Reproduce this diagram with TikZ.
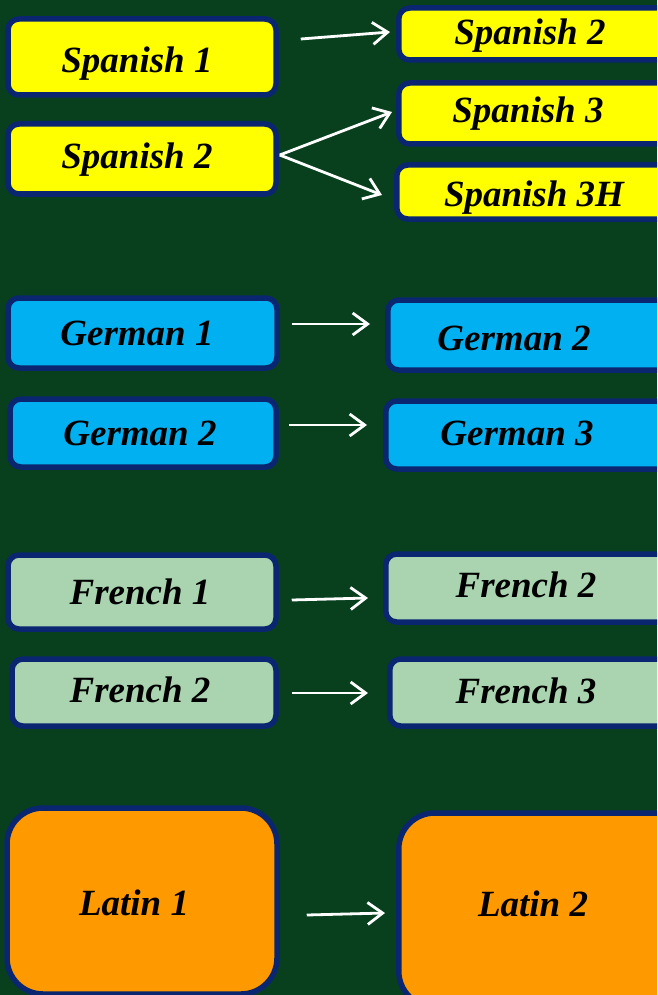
\documentclass[tikz,border=0pt]{standalone}
\usepackage{fontspec}
\setmainfont{Liberation Serif}
\usetikzlibrary{positioning, arrows.meta}

\definecolor{boardgreen}{HTML}{08401E}
\definecolor{frameblue}{HTML}{0A2670}
\definecolor{spanishyellow}{HTML}{FFFF00}
\definecolor{germanblue}{HTML}{00B0F0}
\definecolor{frenchgreen}{HTML}{A9D4AF}
\definecolor{latinorange}{HTML}{FF9900}

\begin{document}
\begin{tikzpicture}[
            x=1pt, y=-1pt,
            course/.style={draw=frameblue, line width=5.5pt, rounded corners=11pt, inner sep=0pt},
            leftcourse/.style={course, minimum width=268pt},
            rightcourse/.style={course, minimum width=320pt, anchor=west},
            label text/.style={anchor=base, inner sep=0pt, font=\fontsize{37}{42}\selectfont\bfseries\itshape},
            arr/.style={draw=white, line width=2.8pt, -{Straight Barb[length=15pt, width=22pt, line width=2.8pt]}},
        ]
            \clip (0,0) rectangle (657,995);
            \fill[boardgreen] (0,0) rectangle (657,995);

            % Spanish
            \node[leftcourse, fill=spanishyellow, minimum height=76pt] (spa1) at (142,57) {};
            \node[leftcourse, fill=spanishyellow, minimum height=70pt] (spa2) at (142,159) {};
            \node[rightcourse, fill=spanishyellow, minimum height=52pt] (spa2r) at (396,34) {};
            \node[rightcourse, fill=spanishyellow, minimum height=61pt] (spa3) at (396,113.5) {};
            \node[rightcourse, fill=spanishyellow, minimum height=54pt] (spa3h) at (394,192) {};
            \node[label text] (spa1t) at (137,73) {Spanish 1};
            \node[label text] (spa2t) at (137,168) {Spanish 2};
            \node[label text] (spa2rt) at (530,45) {Spanish 2};
            \node[label text] (spa3t) at (528,123) {Spanish 3};
            \node[label text] (spa3ht) at (534,207) {Spanish 3H};
            \draw[arr] ([shift={(22,-18)}]spa1.east) -- ([shift={(-6,-2)}]spa2r.west);
            \draw[arr] ([shift={(1,-4)}]spa2.east) -- ([shift={(-4,-1.5)}]spa3.west);
            \draw[arr] ([shift={(1,-4)}]spa2.east) -- ([shift={(-12,3)}]spa3h.west);

            % German
            \node[leftcourse, fill=germanblue, minimum width=269pt, minimum height=70pt] (ger1) at (142.5,333) {};
            \node[leftcourse, fill=germanblue, minimum width=266pt, minimum height=68pt] (ger2) at (143,433) {};
            \node[rightcourse, fill=germanblue, minimum height=70pt] (ger2r) at (385,335) {};
            \node[rightcourse, fill=germanblue, minimum height=68pt] (ger3) at (383,435) {};
            \node[label text] (ger1t) at (137,345) {German 1};
            \node[label text] (ger2t) at (140,445) {German 2};
            \node[label text] (ger2rt) at (514,350) {German 2};
            \node[label text] (ger3t) at (517,445) {German 3};
            \draw[arr] ([shift={(12,-9)}]ger1.east) -- ([shift={(-15,-11)}]ger2r.west);
            \draw[arr] ([shift={(10,-8)}]ger2.east) -- ([shift={(-16,-10)}]ger3.west);

            % French
            \node[leftcourse, fill=frenchgreen, minimum height=74pt] (fre1) at (142,592) {};
            \node[leftcourse, fill=frenchgreen, minimum width=264pt, minimum height=67pt] (fre2) at (144,692.5) {};
            \node[rightcourse, fill=frenchgreen, minimum height=68pt] (fre2r) at (383,588) {};
            \node[rightcourse, fill=frenchgreen, minimum height=67pt] (fre3) at (387,692.5) {};
            \node[label text] (fre1t) at (140,604) {French 1};
            \node[label text] (fre2t) at (140,702) {French 2};
            \node[label text] (fre2rt) at (526,597) {French 2};
            \node[label text] (fre3t) at (526,703) {French 3};
            \draw[arr] ([shift={(13,8)}]fre1.east) -- ([shift={(-15,10)}]fre2r.west);
            \draw[arr] ([shift={(13,0.5)}]fre2.east) -- ([shift={(-19,0.5)}]fre3.west);

            % Latin
            \node[leftcourse, fill=latinorange, minimum width=270pt, minimum height=186pt, rounded corners=36pt] (lat1) at (142,901) {};
            \node[rightcourse, fill=latinorange, minimum height=194pt, rounded corners=36pt] (lat2) at (396,910) {};
            \node[label text] (lat1t) at (134,915) {Latin 1};
            \node[label text] (lat2t) at (533,916) {Latin 2};
            \draw[arr] ([shift={(27,14)}]lat1.east) -- ([shift={(-11,3)}]lat2.west);
        \end{tikzpicture}
\end{document}
